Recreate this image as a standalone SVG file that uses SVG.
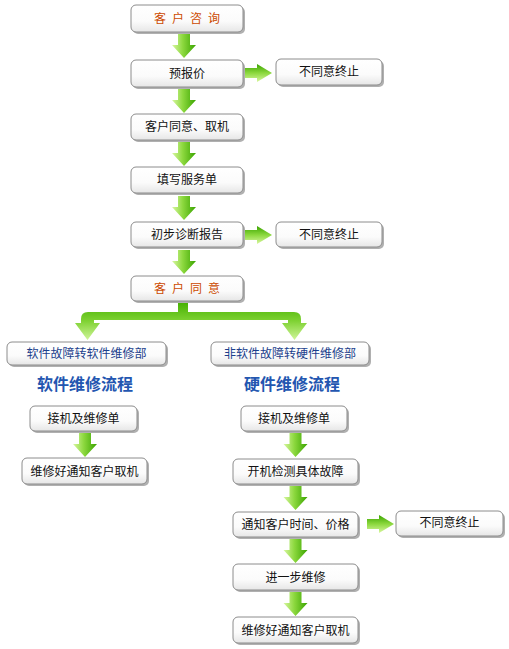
<svg xmlns="http://www.w3.org/2000/svg" width="509" height="649" viewBox="0 0 509 649">
<defs>
<linearGradient id="boxg" x1="0" y1="0" x2="0" y2="1">
<stop offset="0" stop-color="#ffffff"/>
<stop offset="0.6" stop-color="#fbfbfb"/>
<stop offset="1" stop-color="#e6e6e6"/>
</linearGradient>
<linearGradient id="arrg" x1="0" y1="0" x2="1" y2="0">
<stop offset="0" stop-color="#d8f7a0"/>
<stop offset="0.45" stop-color="#8cd83e"/>
<stop offset="1" stop-color="#3aa400"/>
</linearGradient>
<linearGradient id="arrh" x1="0" y1="1" x2="0" y2="0">
<stop offset="0" stop-color="#d8f7a0"/>
<stop offset="0.5" stop-color="#8cd83e"/>
<stop offset="1" stop-color="#3aa400"/>
</linearGradient>
<linearGradient id="brg" x1="0" y1="0" x2="0" y2="1">
<stop offset="0" stop-color="#44b000"/>
<stop offset="0.5" stop-color="#7fd233"/>
<stop offset="1" stop-color="#d0f59a"/>
</linearGradient>
<path id="down" d="M6,0 H18 V11 H24 L12,24 L0,11 H6 Z"/>
<path id="right" d="M0,4 H12 V0 L27,9 L12,18 V14 H0 Z"/>
</defs>
<style>
.box{fill:url(#boxg);stroke:#8c8c8c;stroke-width:1}
.sh{fill:#b0b0b0}
.t{font-family:"Noto Sans CJK SC","Liberation Sans",sans-serif;font-size:12px;fill:#111;text-anchor:middle}
.o{fill:#cc4a00}
.b{fill:#1c3f8c}
.h{font-family:"Noto Sans CJK SC","Liberation Sans",sans-serif;font-size:16px;font-weight:bold;fill:#2356b0;text-anchor:middle}
.ad{fill:url(#arrg)}
.ar{fill:url(#arrh)}
</style>
<rect width="509" height="649" fill="#ffffff"/>

<g id="connectors">
<use href="#down" class="ad" x="172" y="34"/>
<use href="#down" class="ad" x="172" y="89"/>
<use href="#down" class="ad" x="172" y="142"/>
<use href="#down" class="ad" x="172" y="196"/>
<use href="#down" class="ad" x="172" y="250"/>
<use href="#right" class="ar" x="245" y="64"/>
<use href="#right" class="ar" x="245" y="226"/>
<path d="M178,302 H188 V312 H294 Q301,312 301,319 V323 H307 L294.5,340 L282,323 H288 V320 H94 V323 H100 L87.5,340 L75,323 H81 V319 Q81,312 88,312 H178 Z" fill="url(#brg)"/>
<use href="#down" class="ad" x="73" y="433"/>
<use href="#down" class="ad" x="283.5" y="433"/>
<use href="#down" class="ad" x="283.5" y="486"/>
<use href="#down" class="ad" x="283.5" y="539"/>
<use href="#down" class="ad" x="283.5" y="592"/>
<use href="#right" class="ar" x="367" y="515"/>
</g>

<g id="n1"><rect class="sh" x="133" y="7" width="112" height="27" rx="5"/><rect class="box" x="131" y="5" width="112" height="27" rx="5"/><text class="t o" x="187" y="23" textLength="66" lengthAdjust="spacing">客 户 咨 询</text></g>
<g id="n2"><rect class="sh" x="133" y="62" width="112" height="27" rx="5"/><rect class="box" x="131" y="60" width="112" height="27" rx="5"/><text class="t" x="187" y="78">预报价</text></g>
<g id="n2r"><rect class="sh" x="278" y="61" width="106" height="26" rx="5"/><rect class="box" x="276" y="59" width="106" height="26" rx="5"/><text class="t" x="329" y="76">不同意终止</text></g>
<g id="n3"><rect class="sh" x="133" y="116" width="112" height="26" rx="5"/><rect class="box" x="131" y="114" width="112" height="26" rx="5"/><text class="t" x="187" y="131">客户同意、取机</text></g>
<g id="n4"><rect class="sh" x="133" y="169" width="112" height="26" rx="5"/><rect class="box" x="131" y="167" width="112" height="26" rx="5"/><text class="t" x="187" y="184">填写服务单</text></g>
<g id="n5"><rect class="sh" x="133" y="224" width="112" height="25" rx="5"/><rect class="box" x="131" y="222" width="112" height="25" rx="5"/><text class="t" x="187" y="239">初步诊断报告</text></g>
<g id="n5r"><rect class="sh" x="278" y="224" width="106" height="25" rx="5"/><rect class="box" x="276" y="222" width="106" height="25" rx="5"/><text class="t" x="329" y="239">不同意终止</text></g>
<g id="n6"><rect class="sh" x="133" y="278" width="112" height="25" rx="5"/><rect class="box" x="131" y="276" width="112" height="25" rx="5"/><text class="t o" x="187" y="293" textLength="66" lengthAdjust="spacing">客 户 同 意</text></g>

<g id="sw"><rect class="sh" x="9" y="344" width="159" height="23" rx="5"/><rect class="box" x="7" y="342" width="159" height="23" rx="5"/><text class="t b" x="86.5" y="358">软件故障转软件维修部</text></g>
<g id="hw"><rect class="sh" x="213" y="344" width="158" height="23" rx="5"/><rect class="box" x="211" y="342" width="158" height="23" rx="5"/><text class="t b" x="290" y="358">非软件故障转硬件维修部</text></g>

<g id="swtitle"><text class="h" x="85" y="390">软件维修流程</text></g>
<g id="hwtitle"><text class="h" x="292" y="390">硬件维修流程</text></g>

<g id="s1"><rect class="sh" x="32" y="408" width="107" height="25" rx="5"/><rect class="box" x="30" y="406" width="107" height="25" rx="5"/><text class="t" x="83.5" y="423">接机及维修单</text></g>
<g id="s2"><rect class="sh" x="24" y="460" width="125" height="26" rx="5"/><rect class="box" x="22" y="458" width="125" height="26" rx="5"/><text class="t" x="84.5" y="476">维修好通知客户取机</text></g>

<g id="h1"><rect class="sh" x="243" y="408" width="106" height="25" rx="5"/><rect class="box" x="241" y="406" width="106" height="25" rx="5"/><text class="t" x="294" y="423">接机及维修单</text></g>
<g id="h2"><rect class="sh" x="235" y="461" width="125" height="25" rx="5"/><rect class="box" x="233" y="459" width="125" height="25" rx="5"/><text class="t" x="295.5" y="476">开机检测具体故障</text></g>
<g id="h3"><rect class="sh" x="235" y="514" width="125" height="25" rx="5"/><rect class="box" x="233" y="512" width="125" height="25" rx="5"/><text class="t" x="295.5" y="529">通知客户时间、价格</text></g>
<g id="h3r"><rect class="sh" x="398" y="513" width="107" height="25" rx="5"/><rect class="box" x="396" y="511" width="107" height="25" rx="5"/><text class="t" x="449.5" y="527">不同意终止</text></g>
<g id="h4"><rect class="sh" x="235" y="566" width="125" height="26" rx="5"/><rect class="box" x="233" y="564" width="125" height="26" rx="5"/><text class="t" x="295.5" y="582">进一步维修</text></g>
<g id="h5"><rect class="sh" x="235" y="619" width="125" height="26" rx="5"/><rect class="box" x="233" y="617" width="125" height="26" rx="5"/><text class="t" x="295.5" y="635">维修好通知客户取机</text></g>
</svg>
